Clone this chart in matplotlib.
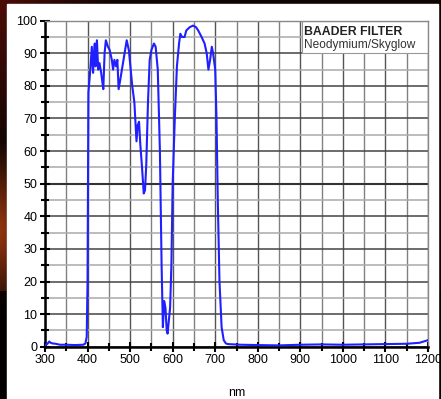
import numpy as np
import matplotlib
matplotlib.use('Agg')
import matplotlib.pyplot as plt
from matplotlib.patches import Rectangle

plt.rcParams['font.family'] = ['Liberation Sans', 'DejaVu Sans']

# transmission curve (nm, %)
wavelength = [300, 305, 310, 313, 318, 325, 335, 350, 370, 390, 395, 398, 400, 402,
              404, 407, 410, 413, 415, 417, 419, 422, 425, 428, 432, 435, 437, 440,
              443, 448, 452, 457, 460, 463, 467, 470, 473, 477, 482, 487, 492, 497,
              500, 505, 510, 515, 518, 521, 524, 528, 532, 535, 538, 542, 546, 550,
              556, 560, 565, 570, 574, 577, 580, 583, 586, 588, 591, 594, 597, 600,
              605, 610, 615, 618, 622, 628, 632, 640, 648, 655, 660, 668, 675, 680,
              684, 688, 692, 695, 700, 703, 706, 710, 715, 720, 725, 730, 760, 800,
              850, 900, 950, 1000, 1050, 1100, 1150, 1180, 1200]
transmission = [0.5, 0.8, 1.6, 1.2, 1.0, 0.9, 0.6, 0.6, 0.5, 0.6, 1.0, 3, 20, 78,
                81, 86, 92, 84, 90, 93, 86, 94, 85, 87, 84, 81, 79, 90,
                94, 92, 91, 88, 85, 88, 86, 88, 79, 82, 86, 90, 94, 91,
                87, 80, 75, 63, 68, 69, 62, 55, 47, 48, 56, 75, 88, 91,
                93, 92, 85, 60, 25, 6, 14, 12, 5, 4, 8, 12, 25, 50,
                70, 86, 93, 96, 95, 95, 97, 98, 98.5, 98, 97, 95, 93, 90,
                85, 88, 92, 90, 85, 70, 45, 20, 6, 2, 1, 0.8, 0.6, 0.5,
                0.4, 0.6, 0.7, 0.6, 0.7, 0.8, 0.9, 1.2, 2.0]

x_ticks = list(range(300, 1201, 100))
y_ticks = list(range(0, 101, 10))

fig = plt.figure(figsize=(4.41, 3.99), dpi=100)
fig.patch.set_facecolor('black')

# photo-like background behind the white sheet
bg = fig.add_axes([0, 0, 1, 1])
bg.set_axis_off()
h, w = 399, 441
yy, xx = np.mgrid[0:h, 0:w]
glow = np.clip(1 - np.hypot((xx + 5) / 60.0, (yy - 230) / 90.0), 0, 1)
top = np.clip(1 - np.hypot((xx + 5) / 120.0, (yy + 5) / 160.0), 0, 1)
img = np.zeros((h, w, 3))
img[..., 0] = 0.06 + 0.55 * glow + 0.25 * top
img[..., 1] = 0.02 + 0.2 * glow + 0.03 * top
img[..., 2] = 0.01 + 0.05 * glow + 0.02 * top
img[yy > 290] *= 0.2
bg.imshow(np.clip(img, 0, 1), extent=[0, w, h, 0], aspect='auto')
bg.add_patch(Rectangle((7, 4), 431, 400, color='white'))
bg.set_xlim(0, w)
bg.set_ylim(h, 0)

ax = fig.add_axes([45 / 441, 52.3 / 399, 383 / 441, 326 / 399])
ax.set_facecolor('white')

for v in range(300, 1201, 50):
    ax.axvline(v, color='#555555' if v % 100 == 0 else '#808080', lw=1.0, zorder=1)
for v in range(0, 101, 5):
    ax.axhline(v, color='#444444' if v % 10 == 0 else '#aaaaaa', lw=1.1, zorder=1)
ax.axhline(50, color='#333333', lw=1.5, zorder=1)

ax.add_patch(Rectangle((903, 90), 297, 10, facecolor='white', edgecolor='#999999',
                       lw=0.8, zorder=2))
ax.text(908, 98.4, 'BAADER FILTER', fontsize=8.8, fontweight='bold', va='top',
        color='#222222', zorder=3)
ax.text(908, 94.3, 'Neodymium/Skyglow', fontsize=8.6, va='top', color='#333333', zorder=3)

ax.plot(wavelength, transmission, color='#1f1fff', lw=1.5, zorder=4)

ax.set_xlim(300, 1200)
ax.set_ylim(0, 100)
ax.set_xticks(x_ticks)
ax.set_xticks(range(350, 1200, 100), minor=True)
ax.set_yticks(y_ticks)
ax.set_yticks(range(5, 100, 10), minor=True)
ax.tick_params(which='both', direction='inout', length=7, width=1.5, colors='black',
               labelsize=9, pad=2)
ax.tick_params(which='minor', length=6)
for s in ['left', 'bottom']:
    ax.spines[s].set_linewidth(1.8)
    ax.spines[s].set_color('black')
for s in ['top', 'right']:
    ax.spines[s].set_linewidth(1.0)
    ax.spines[s].set_color('#888888')
ax.set_xlabel('nm', fontsize=9, labelpad=15)

fig.savefig('out.png', dpi=100, facecolor=fig.get_facecolor())
